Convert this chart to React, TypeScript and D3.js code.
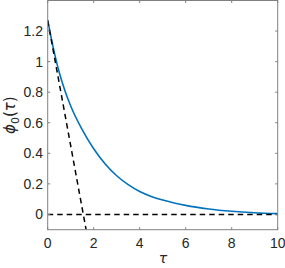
import React from "react";
import * as d3 from "d3";

const curveT = [0, 0.25, 0.5, 0.75, 1.0, 1.5, 2.0, 2.5, 3.0, 3.5, 4.0, 4.5, 5.0, 5.5, 6.0, 7.0, 8.0, 9.0, 10.0];
const curvePhi = [1.27, 1.085, 0.93, 0.81, 0.71, 0.555, 0.43, 0.33, 0.253, 0.195, 0.15, 0.118, 0.094, 0.075, 0.059, 0.036, 0.021, 0.011, 0.005];
const tangentT = [0, 1.67];
const tangentPhi = [1.27, -0.1];
const zeroT = [0, 10];
const zeroPhi = [0, 0];
const xTicks = [0, 2, 4, 6, 8, 10];
const yTicks = [0, 0.2, 0.4, 0.6, 0.8, 1, 1.2];

export default function App() {
  const W = 285, H = 268;
  const L = 47.7, R = 277.7, T = 0.5, B = 229.7;
  const x = d3.scaleLinear().domain([0, 10]).range([L, R]);
  const y = d3.scaleLinear().domain([-0.1, 1.4]).range([B, T]);
  const line = d3.line<[number, number]>().x(d => x(d[0])).y(d => y(d[1]));
  const smooth = d3.line<[number, number]>().x(d => x(d[0])).y(d => y(d[1])).curve(d3.curveMonotoneX);
  const cpts = curveT.map((t, i) => [t, curvePhi[i]] as [number, number]);
  const tpts = tangentT.map((t, i) => [t, tangentPhi[i]] as [number, number]);
  const zpts = zeroT.map((t, i) => [t, zeroPhi[i]] as [number, number]);
  const font = "'Liberation Sans', Arial, Helvetica, sans-serif";
  const tc = "#262626";
  const ac = "#808080";
  const tl = 2.5;
  return (
    <svg width={W} height={H} style={{ position: "fixed", left: 0, top: 0, background: "#fff" }} fontFamily={font}>
      <rect x={0} y={0} width={W} height={H} fill="#fff" />
      <defs>
        <clipPath id="clip"><rect x={L} y={T} width={R - L} height={B - T} /></clipPath>
      </defs>
      <g clipPath="url(#clip)">
        <path d={smooth(cpts) || ""} fill="none" stroke="#0072BD" strokeWidth={1.6} />
        <path d={line(zpts) || ""} fill="none" stroke="#000" strokeWidth={1.5} strokeDasharray="5.5,4" />
        <path d={line(tpts) || ""} fill="none" stroke="#000" strokeWidth={1.5} strokeDasharray="5.5,4" />
      </g>
      <rect x={L} y={T} width={R - L} height={B - T} fill="none" stroke={ac} strokeWidth={1} />
      {xTicks.map(t => (
        <g key={"x" + t}>
          <line x1={x(t)} x2={x(t)} y1={B} y2={B - tl} stroke={ac} />
          <line x1={x(t)} x2={x(t)} y1={T} y2={T + tl} stroke={ac} />
          <text x={x(t)} y={248} textAnchor="middle" fontSize={14} fill={tc}>{t}</text>
        </g>
      ))}
      {yTicks.map(t => (
        <g key={"y" + t}>
          <line x1={L} x2={L + tl} y1={y(t)} y2={y(t)} stroke={ac} />
          <line x1={R} x2={R - tl} y1={y(t)} y2={y(t)} stroke={ac} />
          <text x={43} y={y(t) + 5} textAnchor="end" fontSize={14} fill={tc}>{t}</text>
        </g>
      ))}
      <text x={163} y={263} textAnchor="middle" fontSize={14} fill={tc} fontFamily="'DejaVu Sans', sans-serif" fontStyle="italic">τ</text>
      <text transform={`translate(15, ${(T + B) / 2}) rotate(-90)`} textAnchor="middle" fontSize={15} fill={tc} fontFamily="'DejaVu Sans', sans-serif">
        <tspan fontStyle="italic">ϕ</tspan>
        <tspan fontSize={11} dy={4}>0</tspan>
        <tspan dy={-4}>(</tspan>
        <tspan fontStyle="italic">τ</tspan>
        <tspan>)</tspan>
      </text>
    </svg>
  );
}
